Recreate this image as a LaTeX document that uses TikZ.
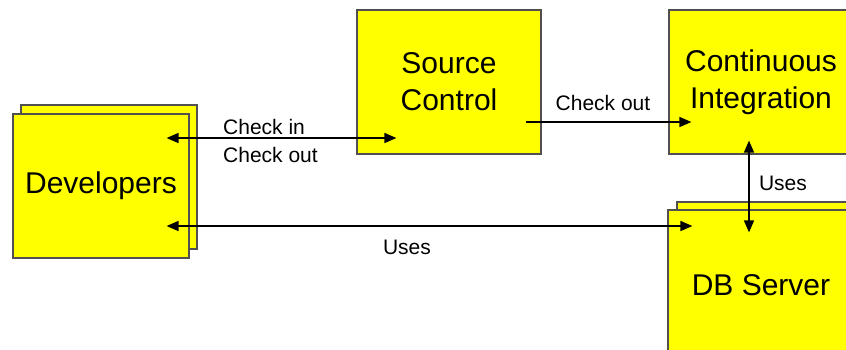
\documentclass[tikz,border=0pt]{standalone}
\usepackage{fontspec}
\setmainfont{Liberation Sans}
\usetikzlibrary{arrows.meta,calc}
\definecolor{boxyellow}{HTML}{FFFF00}
\definecolor{boxedge}{HTML}{505050}
\tikzset{
  ybox/.style={draw=boxedge, fill=boxyellow, line width=1.2pt, inner sep=0pt, align=center,
    font=\fontsize{30}{37}\selectfont},
  conn/.style={line width=1.5pt, -{Triangle[length=12pt,width=10pt]}},
  conn2/.style={line width=1.5pt, {Triangle[length=12pt,width=10pt]}-{Triangle[length=12pt,width=10pt]}},
  lbl/.style={font=\fontsize{21}{28}\selectfont, inner sep=0pt, align=left}
}
\begin{document}
\begin{tikzpicture}[x=1pt,y=-1pt]
\useasboundingbox (0,0) rectangle (846,349);
\clip (0,0) rectangle (846,349);
\fill[white] (0,0) rectangle (846,349);
% Developers (stacked)
\node[ybox, minimum width=176pt, minimum height=144pt] (devback) at (109,177) {};
\node[ybox, minimum width=176pt, minimum height=144pt] (dev) at (101,186) {Developers};
% Source Control
\node[ybox, minimum width=184pt, minimum height=144pt] (sc) at (449,82) {Source\\Control};
% Continuous Integration
\node[ybox, minimum width=184pt, minimum height=144pt] (ci) at (761,82) {Continuous\\Integration};
% DB Server (stacked)
\node[ybox, minimum width=184pt, minimum height=144pt] (dbback) at (769,274) {};
\node[ybox, minimum width=184pt, minimum height=144pt, text depth=0pt] (db) at (760,282) {};
\node[font=\fontsize{30}{37}\selectfont, inner sep=0pt] (dbl) at (761,285) {DB Server};
% connector end points
\coordinate (d1) at ($(dev.east)+(-23,-48)$);
\coordinate (s1) at ($(sc.west)+(40,56)$);
\coordinate (d2) at ($(dev.east)+(-23,40)$);
\coordinate (b1) at ($(db.west)+(25,-56)$);
\coordinate (s2) at ($(sc.east)+(-16,40)$);
\coordinate (c1) at ($(ci.west)+(23,40)$);
\coordinate (c2) at ($(ci.south)+(-12,-14)$);
\coordinate (b2) at ($(db.north)+(-11,23)$);
% connectors
\draw[conn2] (d1) -- (s1);
\draw[conn2] (d2) -- (b1);
\draw[conn] (s2) -- (c1);
\draw[conn2] (c2) -- (b2);
% labels
\node[lbl, anchor=west] (ciclbl) at (223,141) {Check in\\Check out};
\node[lbl] (colbl) at (603,103) {Check out};
\node[lbl] (ulbl1) at (407,247) {Uses};
\node[lbl] (ulbl2) at (783,183) {Uses};
\end{tikzpicture}
\end{document}
